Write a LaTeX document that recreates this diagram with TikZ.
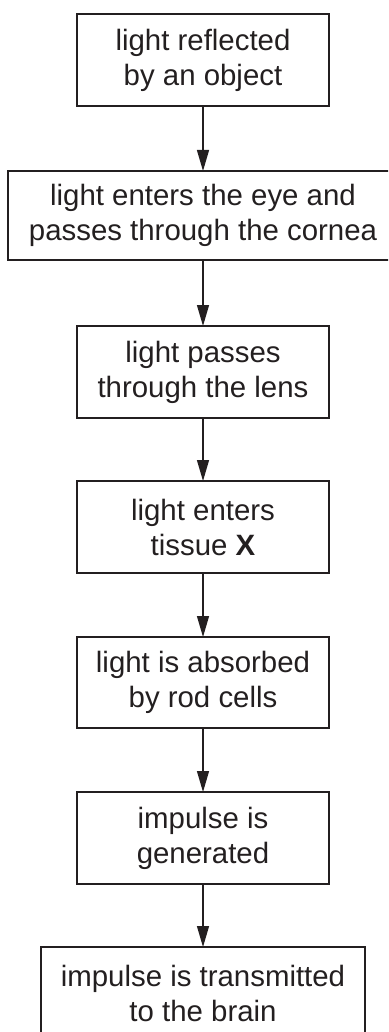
\documentclass[tikz,border=0pt]{standalone}
\usepackage{fontspec}
\setmainfont{Liberation Sans}
\usetikzlibrary{arrows.meta}
\definecolor{ink}{HTML}{231F20}
\begin{document}
\begin{tikzpicture}[x=1pt,y=-1pt,
  stepbox/.style={draw=ink, line width=1.3pt, text=ink, align=center,
    inner sep=0pt, outer sep=0pt,
    font=\fontsize{29.4}{35}\selectfont},
  flow/.style={draw=ink, line width=1.3pt, -{Triangle[length=21pt,width=12pt]}}]
\useasboundingbox (0,0) rectangle (388,1032);
\clip (0,0) rectangle (388,1032);
\node[stepbox, minimum width=252pt, minimum height=92pt] (b1) at (203,60) {light reflected\\by an object};
\node[stepbox, minimum width=390pt, minimum height=89pt] (b2) at (203,215.5) {light enters the eye and\\passes through the cornea};
\node[stepbox, minimum width=252pt, minimum height=92pt] (b3) at (203,372) {light passes\\through the lens};
\node[stepbox, minimum width=252pt, minimum height=92pt] (b4) at (203,527) {light enters\\tissue \textbf{X}};
\node[stepbox, minimum width=252pt, minimum height=91pt] (b5) at (203,682.5) {light is absorbed\\by rod cells};
\node[stepbox, minimum width=252pt, minimum height=92pt] (b6) at (203,838) {impulse is\\generated};
\node[stepbox, minimum width=324pt, minimum height=92pt] (b7) at (203,993) {impulse is transmitted\\to the brain};
\draw[flow] (b1.south) -- (b2.north);
\draw[flow] (b2.south) -- (b3.north);
\draw[flow] (b3.south) -- (b4.north);
\draw[flow] (b4.south) -- (b5.north);
\draw[flow] (b5.south) -- (b6.north);
\draw[flow] (b6.south) -- (b7.north);
\end{tikzpicture}
\end{document}
